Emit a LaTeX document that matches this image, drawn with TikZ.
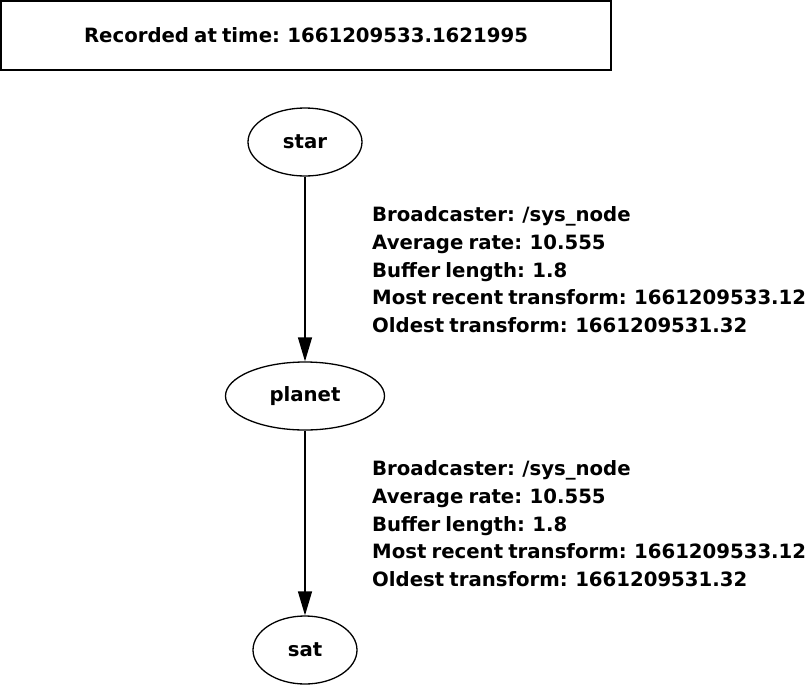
\documentclass[tikz,border=0pt]{standalone}
\usepackage{fontspec}
\setmainfont{DejaVu Sans}[WordSpace=0.75]
\usetikzlibrary{arrows.meta, positioning, shapes.geometric}

\begin{document}
\begin{tikzpicture}[
    x=1pt, y=-1pt,
    stampbox/.style={draw, line width=1.6pt, minimum width=610pt, minimum height=69pt, font=\fontsize{19.7}{27.7}\selectfont\bfseries, inner sep=0pt},
    framenode/.style={draw, ellipse, line width=1.3pt, minimum height=68pt, font=\fontsize{19.7}{27.7}\selectfont\bfseries, inner sep=0pt},
    infobox/.style={align=left, anchor=north west, font=\fontsize{19.7}{27.7}\selectfont\bfseries, inner sep=0pt},
    link/.style={-{Triangle[length=24pt,width=14pt]}, line width=1.3pt}
]
\useasboundingbox (0,0) rectangle (807,686);
\node[stampbox] (stamp) at (306,35.5) {Recorded at time: 1661209533.1621995};
\node[framenode, minimum width=114pt] (star) at (305,142) {star};
\node[framenode, minimum width=159pt] (planet) at (305,396) {planet};
\node[framenode, minimum width=104pt] (sat) at (305,650) {sat};
\node[infobox] (tfstar) at (372,206.5) {Broadcaster: /sys\_node\\Average rate: 10.555\\Buffer length: 1.8\\Most recent transform: 1661209533.12\\Oldest transform: 1661209531.32};
\node[infobox] (tfplanet) at (372,460.5) {Broadcaster: /sys\_node\\Average rate: 10.555\\Buffer length: 1.8\\Most recent transform: 1661209533.12\\Oldest transform: 1661209531.32};
\draw[link] (star) -- (planet);
\draw[link] (planet) -- (sat);
\end{tikzpicture}
\end{document}
